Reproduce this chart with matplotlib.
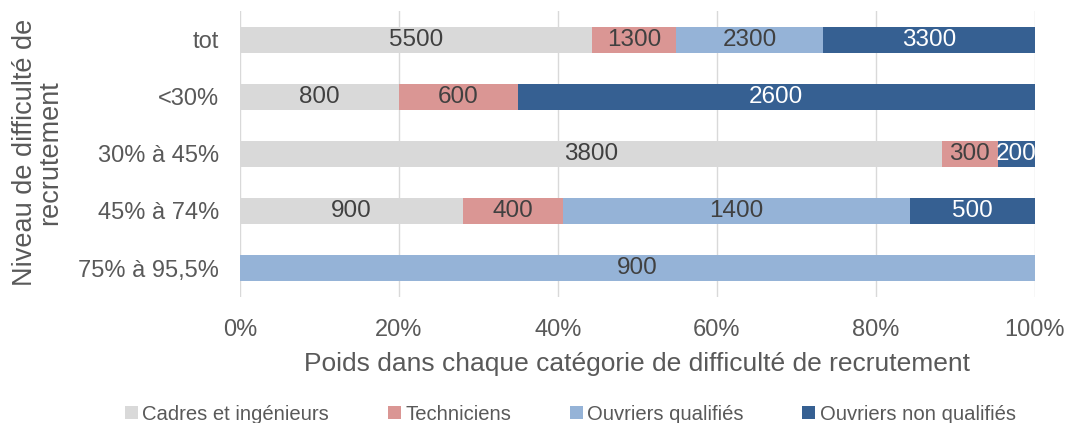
import numpy as np
import matplotlib.pyplot as plt

plt.rcParams['font.family'] = ['Liberation Sans', 'DejaVu Sans']

categories = ["tot", "<30%", "30% à 45%", "45% à 74%", "75% à 95,5%"]
series = ["Cadres et ingénieurs", "Techniciens", "Ouvriers qualifiés", "Ouvriers non qualifiés"]
cadres = [5500, 800, 3800, 900, 0]
techniciens = [1300, 600, 300, 400, 0]
ouv_qualifies = [2300, 0, 0, 1400, 900]
ouv_non_qualifies = [3300, 2600, 200, 500, 0]
xticks = [0, 20, 40, 60, 80, 100]

colors = ["#d9d9d9", "#da9694", "#95b3d7", "#366092"]
text_colors = ["#404040", "#404040", "#404040", "white"]

data = np.array([cadres, techniciens, ouv_qualifies, ouv_non_qualifies], dtype=float)
totals = data.sum(axis=0)
pct = data / totals * 100

fig = plt.figure(figsize=(10.68, 4.23), dpi=100)
ax = fig.add_axes([0.2247, 0.299, 0.744, 0.674])

y = np.arange(len(categories))
left = np.zeros(len(categories))
for i in range(4):
    ax.barh(y, pct[i], left=left, height=0.45, color=colors[i], label=series[i], zorder=2)
    for j in range(len(categories)):
        if data[i, j] > 0:
            ax.text(left[j] + pct[i, j] / 2, y[j], "%d" % data[i, j], ha="center", va="center",
                    fontsize=17.5, color=text_colors[i], zorder=3)
    left += pct[i]

ax.set_ylim(len(categories) - 0.5, -0.5)
ax.set_xlim(0, 100)
ax.set_yticks(y)
ax.set_yticklabels(categories, fontsize=17, color="#595959")
ax.set_xticks(xticks)
ax.set_xticklabels(["%d%%" % v for v in xticks], fontsize=17, color="#595959")
ax.tick_params(axis="y", length=0, pad=15)
ax.tick_params(axis="x", length=0, pad=16)
ax.grid(axis="x", color="#d9d9d9", linewidth=1, zorder=0)
for s in ax.spines.values():
    s.set_visible(False)

ax.set_xlabel("Poids dans chaque catégorie de difficulté de recrutement", fontsize=19, color="#595959", labelpad=8)
fig.text(0.035, 0.64, "Niveau de difficulté de\nrecrutement", rotation=90, ha="center", va="center",
         fontsize=19.5, color="#595959", linespacing=0.95)

fig.legend(loc="lower center", bbox_to_anchor=(0.534, -0.045), ncol=4, frameon=False, fontsize=14.6,
           handlelength=0.65, handleheight=0.65, handletextpad=0.2, columnspacing=2.9, labelcolor="#595959")

fig.savefig("out.png", dpi=100)
